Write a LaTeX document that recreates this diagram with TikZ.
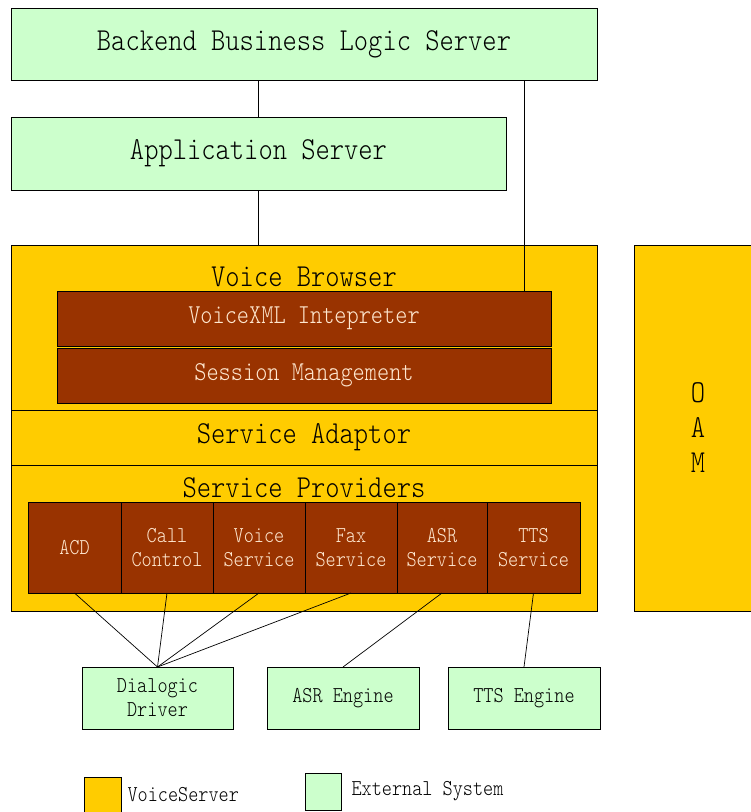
\documentclass[tikz,border=0pt]{standalone}
\usepackage{fontspec}
\newfontfamily\monofont[FakeStretch=0.85]{Latin Modern Mono Light}
\definecolor{extgreen}{HTML}{CCFFCC}
\definecolor{vsyellow}{HTML}{FFCC00}
\definecolor{brownbox}{HTML}{993300}
\definecolor{creamtext}{HTML}{FFE8D0}
\begin{document}
\begin{tikzpicture}[x=1pt,y=-1pt,
  base/.style={draw=black, line width=0.7pt, inner sep=0pt, outer sep=0pt, font=\monofont},
  bigtext/.style={font=\monofont\fontsize{32}{35}\selectfont},
  midtext/.style={font=\monofont\fontsize{27.3}{30}\selectfont},
  smalltext/.style={font=\monofont\fontsize{22.7}{24}\selectfont},
  extbox/.style={base, fill=extgreen},
  vsbox/.style={base, fill=vsyellow},
  brbox/.style={base, fill=brownbox, text=creamtext},
  conn/.style={draw=black, line width=0.7pt}]
\useasboundingbox (0,0) rectangle (751,812);

% top external boxes
\node[extbox, bigtext, minimum width=586pt, minimum height=72pt] (backend) at (304,44) {Backend Business Logic Server};
\node[extbox, bigtext, minimum width=495pt, minimum height=73pt] (app) at (258.5,153.5) {Application Server};

% voice server stack
\node[vsbox, minimum width=586pt, minimum height=165pt] (vb) at (304,327.5) {};
\node[bigtext, anchor=center] (vbtitle) at (304,277) {Voice Browser};
\node[brbox, midtext, minimum width=494pt, minimum height=55pt] (vxml) at (304,318.5) {VoiceXML Intepreter};
\node[brbox, midtext, minimum width=494pt, minimum height=55pt] (sess) at (304,375.5) {Session Management};
\node[vsbox, bigtext, minimum width=586pt, minimum height=55pt] (sa) at (304,437.5) {Service Adaptor};
\node[vsbox, minimum width=586pt, minimum height=146pt] (sp) at (304,538) {};
\node[bigtext] (sptitle) at (304,488) {Service Providers};

% service provider modules
\begin{scope}[every node/.style={brbox, smalltext, align=center, minimum height=91pt}]
\node[minimum width=93pt] (acd) at (74.5,547.5) {ACD};
\node[minimum width=92pt] (cc) at (167,547.5) {Call\\Control};
\node[minimum width=92pt] (vs) at (259,547.5) {Voice\\Service};
\node[minimum width=92pt] (fax) at (351,547.5) {Fax\\Service};
\node[minimum width=90pt] (asrs) at (442,547.5) {ASR\\Service};
\node[minimum width=93pt] (ttss) at (533.5,547.5) {TTS\\Service};
\end{scope}

% OAM
\node[vsbox, bigtext, align=center, minimum width=128pt, minimum height=366pt] (oam) at (698,428) {O\\A\\M};

% lower external boxes
\node[extbox, smalltext, align=center, minimum width=151pt, minimum height=62pt] (dlg) at (157.5,698) {Dialogic\\Driver};
\node[extbox, smalltext, minimum width=152pt, minimum height=62pt] (asre) at (343,698) {ASR Engine};
\node[extbox, smalltext, minimum width=152pt, minimum height=62pt] (ttse) at (524,698) {TTS Engine};

% connectors
\draw[conn] (backend.south -| app.north) -- (app.north);
\draw[conn] (app.south) -- (app.south |- vb.north);
\draw[conn] ([xshift=220pt]backend.south) -- ([xshift=220pt]vxml.north);
\draw[conn] (acd.south) -- (dlg.north);
\draw[conn] (cc.south) -- (dlg.north);
\draw[conn] (vs.south) -- (dlg.north);
\draw[conn] (fax.south) -- (dlg.north);
\draw[conn] (asrs.south) -- (asre.north);
\draw[conn] (ttss.south) -- (ttse.north);

% legend
\node[vsbox, minimum width=37pt, minimum height=38pt] (legvs) at (102.5,796) {};
\node[smalltext, anchor=west] (legvstext) at (124,795) {VoiceServer};
\node[extbox, minimum width=36pt, minimum height=37pt] (legext) at (323,791.5) {};
\node[smalltext, anchor=west] (legexttext) at (348,791) {External System};
\end{tikzpicture}
\end{document}
